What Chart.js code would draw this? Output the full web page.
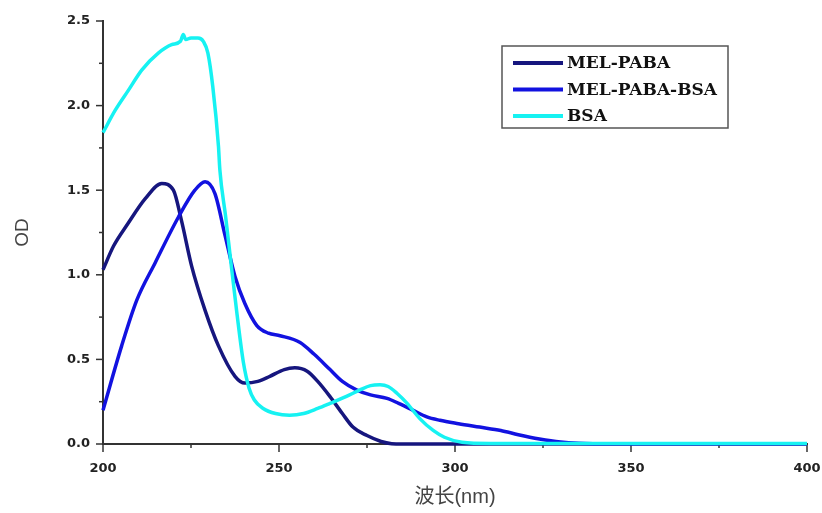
<!DOCTYPE html>
<html>
<head>
<meta charset="utf-8">
<script src="https://cdn.jsdelivr.net/npm/chart.js@4/dist/chart.umd.min.js"></script>
<style>
  html, body { margin: 0; padding: 0; background: #fff; }
  #wrap { width: 822px; height: 513px; }
</style>
</head>
<body>
<div id="wrap"><canvas id="myChart" width="822" height="513"></canvas></div>
<script>
  // MEL-PABA
  const melPabaX = [200, 203, 207, 212, 216.7, 220, 222.3, 225.2, 229, 232.8, 237.5, 240.3, 244, 247.4, 251.5, 254.5, 258, 261, 264.5, 268, 271, 275, 279, 282, 285, 400];
  const melPabaY = [1.03, 1.17, 1.30, 1.45, 1.54, 1.50, 1.32, 1.05, 0.79, 0.58, 0.40, 0.36, 0.37, 0.40, 0.44, 0.45, 0.43, 0.37, 0.28, 0.18, 0.10, 0.05, 0.015, 0.002, 0, 0];

  // MEL-PABA-BSA
  const melPabaBsaX = [200, 205.3, 209.6, 214.8, 221.4, 226.1, 229, 231.8, 234.7, 237.5, 240.3, 243.7, 247, 250.3, 256, 260, 264.5, 268, 272, 276, 280.7, 284, 288, 292, 295.7, 301, 307, 313, 318, 324, 330, 335, 345, 400];
  const melPabaBsaY = [0.20, 0.58, 0.85, 1.07, 1.34, 1.50, 1.55, 1.48, 1.23, 0.99, 0.83, 0.70, 0.655, 0.64, 0.60, 0.53, 0.44, 0.37, 0.32, 0.29, 0.27, 0.24, 0.20, 0.16, 0.14, 0.12, 0.10, 0.08, 0.055, 0.03, 0.012, 0.005, 0.002, 0.002];

  // BSA
  const bsaX = [200, 203.4, 207.2, 211, 215.7, 219.5, 222, 222.8, 223.5, 225, 227, 228.5, 229.8, 231.2, 232.8, 233.2, 234.8, 236.3, 238, 239.9, 241.5, 243, 245.5, 249, 253, 257, 261, 264.5, 269, 273, 276, 278.7, 281, 283.5, 286.4, 290, 293.8, 297, 302, 310, 400];
  const bsaY = [1.84, 1.97, 2.09, 2.21, 2.31, 2.36, 2.38, 2.42, 2.39, 2.40, 2.40, 2.38, 2.31, 2.11, 1.76, 1.62, 1.35, 1.08, 0.78, 0.48, 0.33, 0.26, 0.21, 0.18, 0.17, 0.18, 0.21, 0.24, 0.28, 0.32, 0.345, 0.35, 0.34, 0.30, 0.24, 0.15, 0.08, 0.04, 0.01, 0.003, 0.003];

  const seriesNames = ['MEL-PABA', 'MEL-PABA-BSA', 'BSA'];
  const seriesColors = ['#16167e', '#1212e0', '#16f2f2'];

  const xTicks = [200, 250, 300, 350, 400];
  const yTicks = [0.0, 0.5, 1.0, 1.5, 2.0, 2.5];

  function toPoints(xs, ys) {
    return xs.map((x, i) => ({ x: x, y: ys[i] }));
  }

  // ticks drawn by hand so that minor ones can be shorter
  const tickMarks = {
    id: 'tickMarks',
    beforeDatasetsDraw(chart) {
      const ctx = chart.ctx;
      const xs = chart.scales.x, ys = chart.scales.y;
      const area = chart.chartArea;
      ctx.save();
      ctx.strokeStyle = '#333';
      ctx.lineWidth = 1.5;
      for (let v = 200; v <= 400; v += 25) {
        const px = xs.getPixelForValue(v);
        const len = (v % 50 === 0) ? 8 : 4;
        ctx.beginPath();
        ctx.moveTo(px, area.bottom);
        ctx.lineTo(px, area.bottom + len);
        ctx.stroke();
      }
      for (let v = 0; v <= 2.5001; v += 0.25) {
        const py = ys.getPixelForValue(v);
        const major = Math.abs(v * 2 - Math.round(v * 2)) < 1e-6;
        const len = major ? 7 : 4;
        ctx.beginPath();
        ctx.moveTo(area.left, py);
        ctx.lineTo(area.left - len, py);
        ctx.stroke();
      }
      ctx.restore();
    }
  };

  const boxLegend = {
    id: 'boxLegend',
    afterDraw(chart) {
      const ctx = chart.ctx;
      ctx.save();
      ctx.strokeStyle = '#555';
      ctx.lineWidth = 1.5;
      ctx.strokeRect(502, 46, 226, 82);
      ctx.font = 'bold 17px "DejaVu Serif", serif';
      ctx.textBaseline = 'middle';
      ctx.fillStyle = '#111';
      chart.data.datasets.forEach((ds, i) => {
        const y = 63 + i * 26.5;
        ctx.strokeStyle = ds.borderColor;
        ctx.lineWidth = 4;
        ctx.beginPath();
        ctx.moveTo(513, y);
        ctx.lineTo(563, y);
        ctx.stroke();
        ctx.fillText(ds.label, 567, y + 1);
      });
      ctx.restore();
    }
  };

  const data = {
    datasets: [
      { label: seriesNames[0], data: toPoints(melPabaX, melPabaY), order: 2 },
      { label: seriesNames[1], data: toPoints(melPabaBsaX, melPabaBsaY), order: 1 },
      { label: seriesNames[2], data: toPoints(bsaX, bsaY), order: 0 }
    ].map((ds, i) => Object.assign(ds, {
      borderColor: seriesColors[i],
      backgroundColor: seriesColors[i],
      borderWidth: 3.5,
      pointRadius: 0,
      cubicInterpolationMode: 'monotone',
      clip: false
    }))
  };

  const tickFont = { family: '"DejaVu Sans", sans-serif', size: 13, weight: 'bold' };

  const config = {
    type: 'line',
    data: data,
    options: {
      responsive: false,
      animation: false,
      layout: { padding: { left: 0, top: 21, right: 15, bottom: 0 } },
      plugins: {
        legend: { display: false },
        tooltip: { enabled: false }
      },
      scales: {
        x: {
          type: 'linear',
          min: 200,
          max: 400,
          afterBuildTicks: (scale) => { scale.ticks = xTicks.map(v => ({ value: v })); },
          afterFit: (scale) => {
            scale.height = 69;
            scale.paddingLeft = 0;
            scale.paddingRight = 0;
          },
          grid: { display: false, drawTicks: false },
          border: { display: true, color: '#333', width: 2 },
          ticks: {
            padding: 17,
            color: '#222',
            font: tickFont,
            maxRotation: 0
          },
          title: {
            display: true,
            text: '波长(nm)',
            color: '#444',
            font: { family: '"Liberation Sans", "Noto Sans CJK SC", sans-serif', size: 20 },
            padding: { top: 0, bottom: 4 }
          }
        },
        y: {
          min: 0,
          max: 2.5,
          afterBuildTicks: (scale) => { scale.ticks = yTicks.map(v => ({ value: v })); },
          afterFit: (scale) => {
            scale.width = 103;
            scale.paddingTop = 0;
            scale.paddingBottom = 0;
          },
          grid: { display: false, drawTicks: false },
          border: { display: true, color: '#333', width: 2 },
          ticks: {
            padding: 13,
            color: '#222',
            font: tickFont,
            callback: (v) => Number(v).toFixed(1)
          },
          title: {
            display: true,
            text: 'OD',
            color: '#444',
            font: { family: '"Liberation Sans", sans-serif', size: 19 },
            padding: { top: 11, bottom: 0 }
          }
        }
      }
    },
    plugins: [tickMarks, boxLegend]
  };

  const myChart = new Chart(
    document.getElementById('myChart'),
    config
  );
</script>
</body>
</html>
